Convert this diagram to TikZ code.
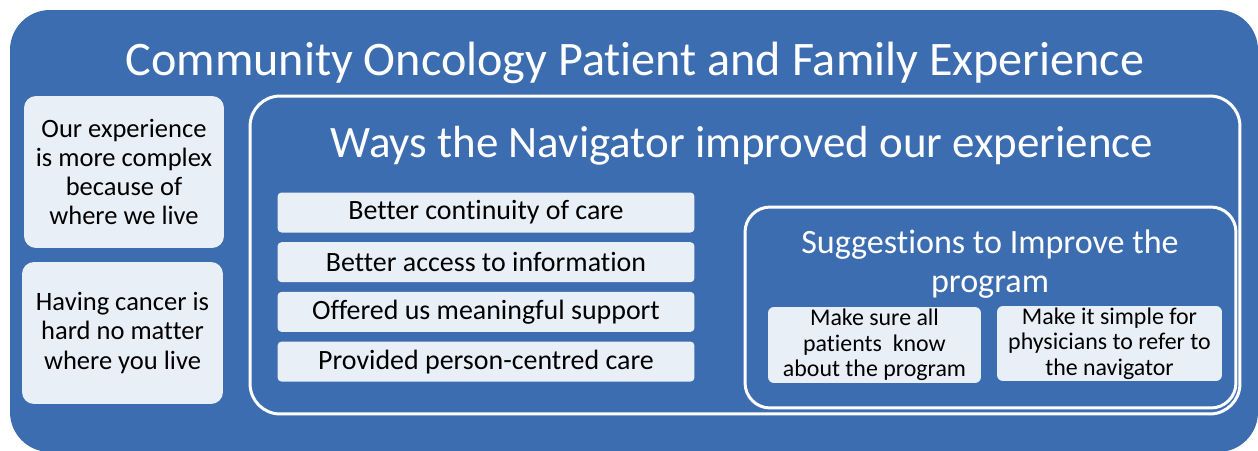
\documentclass[tikz,border=0pt]{standalone}
\usepackage{fontspec}
\setmainfont{Carlito}[Ligatures=NoCommon]
\usetikzlibrary{positioning}
\definecolor{panelblue}{HTML}{3D6DB1}
\definecolor{paleblue}{HTML}{E9EFF7}

\begin{document}
\begin{tikzpicture}[x=0.02cm,y=-0.02cm,
	pale/.style={fill=paleblue,text=black,align=center,inner sep=0pt},
	frame/.style={draw=white,line width=1.7pt,inner sep=0pt},
	heading/.style={text=white,align=center,inner sep=0pt},
	bar/.style={pale,rounded corners=0.08cm,minimum width=8.34cm,minimum height=0.8cm,
		font=\fontsize{15.9}{18}\selectfont},
	sidebox/.style={pale,rounded corners=0.24cm,font=\fontsize{15.1}{16.6}\selectfont},
	ideabox/.style={pale,rounded corners=0.12cm,font=\fontsize{13.6}{14.5}\selectfont}]
	\useasboundingbox (0,0) rectangle (1258,450);
	% background panel
	\fill[panelblue,rounded corners=0.8cm] (10,10) rectangle (1258,452);
	\node[heading,anchor=base,font=\fontsize{27.4}{30}\selectfont] (title) at (635,75)
		{Community Oncology Patient and Family Experience};
	% left side
	\node[sidebox,minimum width=4cm,minimum height=3.04cm] (complex) at (124,172)
		{Our experience\\is more complex\\because of\\where we live};
	\node[sidebox,minimum width=4.02cm,minimum height=2.84cm] (hard) at (122.5,333)
		{Having cancer is\\hard no matter\\where you live};
	% navigator frame
	\node[frame,rounded corners=0.6cm,minimum width=19.8cm,minimum height=6.36cm] (nav) at (745,255) {};
	\node[heading,anchor=base,font=\fontsize{25.6}{28}\selectfont] (navtitle) at (742,157)
		{Ways the Navigator improved our experience};
	\node[bar] (care) at (486,212.5) {Better continuity of care};
	\node[bar,below=0.18cm of care] (info) {Better access to information};
	\node[bar,below=0.18cm of info] (support) {Offered us meaningful support};
	\node[bar,below=0.18cm of support] (person) {Provided person-centred care};
	% suggestions
	\node[frame,rounded corners=0.5cm,minimum width=9.82cm,minimum height=4.02cm] (sugg) at (990.5,307.5) {};
	\node[heading,anchor=base,font=\fontsize{19.4}{22}\selectfont] (suggtitle) at (990,253)
		{Suggestions to Improve the};
	\node[heading,anchor=base,font=\fontsize{19.4}{22}\selectfont] (suggtitle2) at (990,292)
		{program};
	\node[ideabox,minimum width=4.26cm,minimum height=1.52cm] (aware) at (874.5,345)
		{Make sure all\\patients\ \ know\\about the program};
	\node[ideabox,minimum width=4.5cm,minimum height=1.5cm] (refer) at (1109.5,343.5)
		{Make it simple for\\physicians to refer to\\the navigator};
\end{tikzpicture}
\end{document}
